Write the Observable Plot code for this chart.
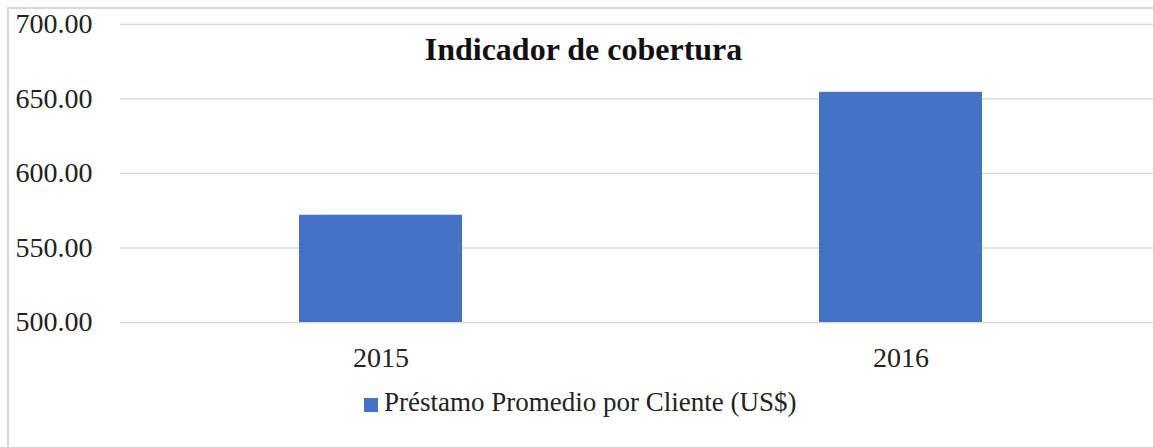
<!DOCTYPE html>
<html>
<head>
<meta charset="utf-8">
<script src="https://cdn.jsdelivr.net/npm/d3@7"></script>
<script src="https://cdn.jsdelivr.net/npm/@observablehq/plot@0.6"></script>
<style>
  html, body { margin: 0; padding: 0; background: #fff; }
  #wrap { position: relative; width: 1153px; height: 447px; overflow: hidden; font-family: "Liberation Serif", "Times New Roman", serif; color: #222; }
  #border { position: absolute; left: 7px; top: 7px; width: 1200px; height: 500px; border-left: 2px solid #d9d9d9; border-top: 2px solid #d9d9d9; box-sizing: border-box; }
  #chart { position: absolute; left: 0; top: 0; }
  #title { position: absolute; left: 0; width: 1167px; top: 33px; text-align: center; font-weight: bold; font-size: 32px; line-height: 32px; color: #111; }
  #legend { position: absolute; left: 0; top: 380px; width: 1153px; height: 67px; }
  #legend .sw { position: absolute; left: 364px; top: 18px; width: 14px; height: 14px; background: #4472c4; }
  #legend .lb { position: absolute; left: 384px; top: 9px; font-size: 27px; line-height: 27px; white-space: nowrap; color: #222; }
</style>
</head>
<body>
<div id="wrap">
  <div id="border"></div>
  <div id="chart"></div>
  <div id="title"></div>
  <div id="legend"><span class="sw"></span><span class="lb"></span></div>
</div>
<script>
const title = "Indicador de cobertura";
const seriesName = "Préstamo Promedio por Cliente (US$)";
const years = ["2015", "2016"];
const values = [572, 654.5];
const yTicks = [500, 550, 600, 650, 700];

const data = years.map((year, i) => ({year, value: values[i]}));

const chart = Plot.plot({
  width: 1153,
  height: 380,
  marginTop: 24,
  marginBottom: 58,
  marginLeft: 120,
  marginRight: 0,
  style: {fontFamily: "'Liberation Serif', 'Times New Roman', serif", fontSize: "28px", color: "#222", background: "transparent", overflow: "visible"},
  x: {domain: years, range: [120, 1160], paddingInner: 0.6875, paddingOuter: 0.34375},
  y: {domain: [500, 700]},
  marks: [
    Plot.gridY(yTicks, {stroke: "#d9d9d9", strokeOpacity: 1, strokeWidth: 1.5}),
    Plot.barY(data, {x: "year", y1: 500, y2: "value", fill: "#4472c4"}),
    Plot.axisY(yTicks, {tickSize: 0, tickPadding: 105, textAnchor: "start", tickFormat: d => d.toFixed(2), label: null, fill: "#222", fontSize: 28}),
    Plot.axisX({tickSize: 0, tickPadding: 25, label: null, fill: "#222", fontSize: 28})
  ]
});
document.getElementById("chart").appendChild(chart);
document.getElementById("title").textContent = title;
document.querySelector("#legend .lb").textContent = seriesName;
</script>
</body>
</html>
